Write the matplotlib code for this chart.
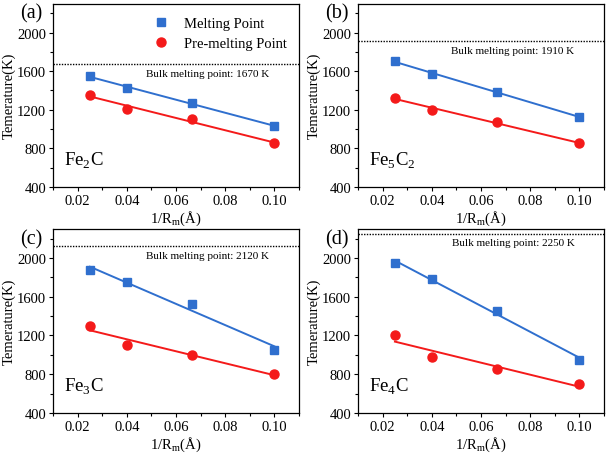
import numpy as np
import matplotlib
matplotlib.use("Agg")
import matplotlib.pyplot as plt
from matplotlib.ticker import MultipleLocator

plt.rcParams['font.family'] = ['Liberation Serif', 'DejaVu Serif']
plt.rcParams['mathtext.fontset'] = 'custom'
plt.rcParams['mathtext.rm'] = 'Liberation Serif'

x = [0.025, 0.04, 0.0667, 0.10]
panel_labels = ["(a)", "(b)", "(c)", "(d)"]
compounds = ["Fe$_2$C", "Fe$_5$C$_2$", "Fe$_3$C", "Fe$_4$C"]
bulk = [1670, 1910, 2120, 2250]
melting = [
    [1550, 1420, 1270, 1030],
    [1700, 1575, 1380, 1125],
    [1875, 1750, 1520, 1050],
    [1950, 1780, 1450, 950],
]
premelting = [
    [1350, 1210, 1100, 850],
    [1320, 1200, 1075, 850],
    [1300, 1100, 1000, 800],
    [1200, 980, 850, 700],
]

blue = '#2f6fce'
red = '#f41a1a'

fig = plt.figure(figsize=(6.10, 4.56), dpi=100)
boxes = [
    (0.087, 0.588, 0.403, 0.402),
    (0.587, 0.588, 0.403, 0.402),
    (0.087, 0.092, 0.403, 0.404),
    (0.587, 0.092, 0.403, 0.404),
]

for i in range(4):
    ax = fig.add_axes(boxes[i])
    xs = np.array(x)
    m = np.array(melting[i]); p = np.array(premelting[i])
    cm = np.polyfit(xs, m, 1); cp = np.polyfit(xs, p, 1)
    xf = np.array([xs[0], xs[-1]])
    ax.plot(xf, np.polyval(cm, xf), color=blue, lw=1.4)
    ax.plot(xf, np.polyval(cp, xf), color=red, lw=1.4)
    ax.plot(xs, m, 's', color=blue, ms=5.5, label='Melting Point')
    ax.plot(xs, p, 'o', color=red, ms=6.5, label='Pre-melting Point')
    ax.axhline(bulk[i], color='black', ls=(0, (1, 1)), lw=1.0)
    ax.text(0.073, bulk[i] - 45, f"Bulk melting point: {bulk[i]} K",
            ha='center', va='top', fontsize=8)
    ax.set_xlim(0.01, 0.11)
    ax.set_ylim(400, 2300)
    ax.set_xticks([0.02, 0.04, 0.06, 0.08, 0.10])
    ax.set_xticklabels(['0.02', '0.04', '0.06', '0.08', '0.10'])
    ax.set_yticks([400, 800, 1200, 1600, 2000])
    ax.xaxis.set_minor_locator(MultipleLocator(0.01))
    ax.yaxis.set_minor_locator(MultipleLocator(200))
    ax.tick_params(which='major', direction='out', length=3, width=0.8, labelsize=10.5, pad=2)
    ax.tick_params(which='minor', direction='out', length=2, width=0.8)
    ax.set_xlabel("1/R$_\\mathrm{m}$(Å)", fontsize=10.5, labelpad=1)
    ax.set_ylabel("Temerature(K)", fontsize=10.5)
    ax.yaxis.set_label_coords(-0.152, 0.5)
    for s in ax.spines.values():
        s.set_linewidth(0.9)
    ax.text(0.045, 0.09, compounds[i], transform=ax.transAxes, fontsize=13.5,
            ha='left', va='bottom')
    ax.text(-0.135, 1.0, panel_labels[i], transform=ax.transAxes, fontsize=14.5,
            ha='left', va='top')
    if i == 0:
        ax.legend(loc='upper right', bbox_to_anchor=(1.0, 0.99), frameon=False,
                  fontsize=10.5, handletextpad=0.6, borderaxespad=0.4,
                  labelspacing=0.45)

fig.savefig("out.png", dpi=100)
